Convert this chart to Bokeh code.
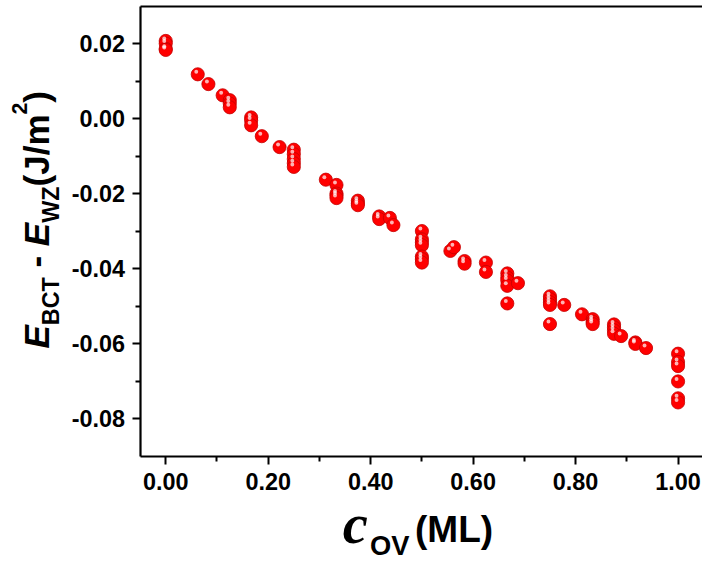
from bokeh.plotting import figure
from bokeh.models import Range1d, LinearAxis, FixedTicker, PrintfTickFormatter, Label, ColumnDataSource
from bokeh.embed import file_html
from bokeh.resources import INLINE
import math

# ---------------- data ----------------
c_ov = [0.0, 0.0, 0.0, 0.0,
        0.0625, 0.0833, 0.1111,
        0.125, 0.125, 0.125,
        0.1667, 0.1667, 0.1667,
        0.1875, 0.2222,
        0.25, 0.25, 0.25, 0.25, 0.25,
        0.3125,
        0.3333, 0.3333, 0.3333, 0.3333,
        0.375, 0.375, 0.375,
        0.4167, 0.4167, 0.4375, 0.4444,
        0.5, 0.5, 0.5, 0.5, 0.5, 0.5, 0.5,
        0.5556, 0.5625,
        0.5833, 0.5833,
        0.625, 0.625,
        0.6667, 0.6667, 0.6667, 0.6667, 0.6667,
        0.6875,
        0.75, 0.75, 0.75, 0.75, 0.75,
        0.7778, 0.8125,
        0.8333, 0.8333, 0.8333,
        0.875, 0.875, 0.875, 0.875,
        0.8889, 0.9167, 0.9167, 0.9375,
        1.0, 1.0, 1.0, 1.0, 1.0, 1.0]
de = [0.0207, 0.0200, 0.0186, 0.0183,
      0.0118, 0.0092, 0.0062,
      0.0049, 0.0040, 0.0030,
      0.0003, -0.0005, -0.0018,
      -0.0047, -0.0076,
      -0.0083, -0.0095, -0.0108, -0.0119, -0.0129,
      -0.0163,
      -0.0177, -0.0200, -0.0205, -0.0212,
      -0.0219, -0.0226, -0.0231,
      -0.0261, -0.0268, -0.0265, -0.0284,
      -0.0300, -0.0322, -0.0330, -0.0338, -0.0368, -0.0375, -0.0384,
      -0.0353, -0.0343,
      -0.0380, -0.0387,
      -0.0384, -0.0409,
      -0.0413, -0.0424, -0.0432, -0.0446, -0.0493,
      -0.0439,
      -0.0474, -0.0482, -0.0490, -0.0497, -0.0548,
      -0.0497, -0.0522,
      -0.0535, -0.0542, -0.0548,
      -0.0549, -0.0557, -0.0565, -0.0574,
      -0.0580, -0.0597, -0.0601, -0.0612,
      -0.0627, -0.0649, -0.0660, -0.0701, -0.0746, -0.0757]

x_ticks = [0.0, 0.2, 0.4, 0.6, 0.8, 1.0]
x_minor = [0.1, 0.3, 0.5, 0.7, 0.9]
y_ticks = [-0.08, -0.06, -0.04, -0.02, 0.0, 0.02]
y_minor = [-0.07, -0.05, -0.03, -0.01, 0.01]
x_box = (-0.05, 1.05)     # plot box limits
y_box = (-0.09, 0.03)

# ---------------- layout (reference measured in a 718x576 picture) ----------------
W, H = 702, 560
SX, SY = W / 718, H / 576
SF = (SX + SY) / 2
X0, KX = 169.0, 524.0      # px of x=0, px per unit (reference)
Y0, KY = 44.3, 3857.0      # px of y=0.02, px per unit (reference)
x_lo, x_hi = (0 - X0) / KX, (718 - X0) / KX
y_lo, y_hi = 0.02 - (576 - Y0) / KY, 0.02 + Y0 / KY

p = figure(width=W, height=H, output_backend="svg", toolbar_location=None,
           x_range=Range1d(x_lo, x_hi), y_range=Range1d(y_lo, y_hi),
           x_axis_type=None, y_axis_type=None,
           min_border_left=0, min_border_bottom=0, min_border_top=0, min_border_right=0)
p.outline_line_color = None
p.grid.visible = False
p.background_fill_color = "white"
p.border_fill_color = "white"

xax = LinearAxis(fixed_location=y_box[0], bounds=(x_box[0], x_hi))
yax = LinearAxis(fixed_location=x_box[0], bounds=y_box)
p.add_layout(xax, "below")
p.add_layout(yax, "left")
for ax, maj, mnr in ((xax, x_ticks, x_minor), (yax, y_ticks, y_minor)):
    ax.ticker = FixedTicker(ticks=maj, minor_ticks=mnr)
    ax.formatter = PrintfTickFormatter(format="%.2f")
    ax.axis_line_width = 2.2
    ax.axis_line_color = "black"
    ax.major_tick_line_width = 2
    ax.minor_tick_line_width = 2
    ax.major_tick_out = 8
    ax.major_tick_in = 0
    ax.minor_tick_out = 5
    ax.minor_tick_in = 0
    ax.major_label_text_font = "Liberation Sans"
    ax.major_label_text_font_style = "bold"
    ax.major_label_text_font_size = f"{24 * SF:.1f}px"
    ax.major_label_text_color = "black"
yax.major_label_standoff = 7
xax.major_label_standoff = 9

top = LinearAxis(fixed_location=y_box[1], bounds=(x_box[0], x_hi), ticker=FixedTicker(ticks=[]),
                 major_tick_out=0, major_tick_in=0, minor_tick_out=0, minor_tick_in=0,
                 major_label_standoff=0, major_label_text_font_size="0px",
                 axis_line_width=2.2, axis_line_color="black")
p.add_layout(top, "above")

# ---------------- markers ----------------
src = ColumnDataSource(dict(x=c_ov, y=de))
p.scatter("x", "y", source=src, size=13.5 * SF, fill_color="#ff0000", line_color="#c40000", line_width=0.8)
dx = 1.5 / (KX * SX)
dy = 2.5 / (KY * SY)
hl = ColumnDataSource(dict(x=[v - dx for v in c_ov], y=[v + dy for v in de]))
p.scatter("x", "y", source=hl, size=4 * SF, fill_color="white", fill_alpha=0.7, line_color=None)

# ---------------- axis titles (rich text pieces) ----------------
ADV = {"E": 0.667, "B": 0.722, "C": 0.722, "T": 0.611, "-": 0.333, " ": 0.278, "W": 0.944,
       "Z": 0.611, "(": 0.333, "J": 0.556, "/": 0.278, "m": 0.889, "2": 0.556, ")": 0.333}
BL = 0.38   # anchor-to-baseline correction (em)

def adv(s, size):
    return sum(ADV[ch] for ch in s) * size

def lab(text, rx, ry, size, style="bold", rotated=False, font="Liberation Sans"):
    if rotated:
        rx -= BL * size
    else:
        ry -= BL * size
    p.add_layout(Label(x=rx * SX, y=H - ry * SY, x_units="screen", y_units="screen",
                       text=text, text_font=font, text_font_size=f"{size * SF:.1f}px",
                       text_font_style=style, text_color="black",
                       angle=math.pi / 2 if rotated else 0.0,
                       text_align="left", text_baseline="alphabetic"))

# y title, rotated, reading bottom to top (reference pixel positions of baselines)
base_x = 50
cur = 358
pieces = [("E", 36, "bold italic", 0), ("BCT", 24, "bold", 11), (" ", 36, None, 0),
          ("-", 36, "bold", 0), (" ", 36, None, 0), ("E", 36, "bold italic", 0),
          ("WZ", 24, "bold", 11), ("(J/m", 36, "bold", 0), ("2", 22, "bold", -22),
          (")", 36, "bold", 0)]
for t, s, st, off in pieces:
    if st is not None:
        lab(t, base_x + off, cur, s, st, rotated=True)
    cur -= adv(t, s)

# x title
lab("c", 350, 561, 58, "bold italic", font="Liberation Serif")
lab("OV", 378, 571, 28, "bold")
lab("(ML)", 424, 559, 38, "bold")

open("out.html", "w").write(file_html(p, INLINE))
